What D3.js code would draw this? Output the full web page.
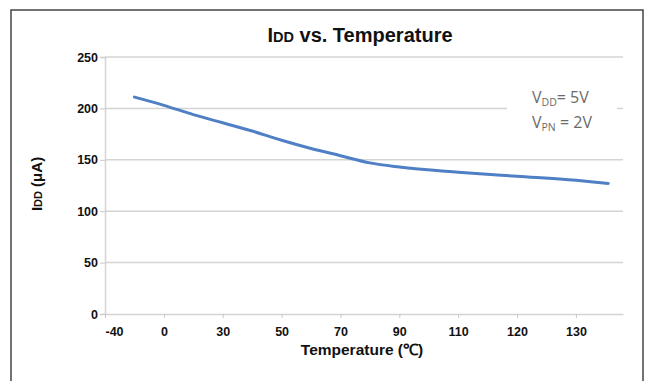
<!DOCTYPE html>
<html>
<head>
<meta charset="utf-8">
<script src="https://cdn.jsdelivr.net/npm/d3@7"></script>
<style>
  body { margin: 0; background: #fff; }
  svg { display: block; }
</style>
</head>
<body>
<svg id="chart"></svg>
<script>
// Tick labels of the temperature axis (evenly spaced categories)
const tempLabels = ["-40", "0", "30", "50", "70", "90", "110", "120", "130"];
// Y ticks
const iddTicks = [0, 50, 100, 150, 200, 250];
// Curve samples: position along the category axis (index units) and IDD in uA
const curvePos = [0.5, 1.0, 1.5, 2.0, 2.5, 3.0, 3.5, 4.0, 4.5, 5.0, 6.0, 7.0, 8.0, 8.55];
const curveIdd = [211, 203, 194, 186, 178, 169, 161, 154, 147, 143, 138, 134, 130, 127];

const W = 651, H = 381;
const font = "'Liberation Sans', Arial, sans-serif";
const svg = d3.select("#chart").attr("width", W).attr("height", H);

// frame
svg.append("rect")
    .attr("x", 11).attr("y", 10)
    .attr("width", 632).attr("height", 400)
    .style("fill", "none")
    .style("stroke", "#444")
    .style("stroke-width", 1.5);

const x = d3.scaleLinear().domain([0, 8.8]).range([105, 623]);
const y = d3.scaleLinear().domain([0, 250]).range([314, 57]);

// gridlines ----------
svg.append("g")
    .selectAll("line")
    .data(iddTicks.filter(d => d > 0))
    .enter()
    .append("line")
    .attr("x1", x(0)).attr("x2", x(8.8))
    .attr("y1", d => y(d)).attr("y2", d => y(d))
    .style("stroke", "#d4d4d4")
    .style("stroke-width", 1.5);

// y axis
const yAxis = svg.append("g")
    .attr("transform", `translate(${x(0)},0)`)
    .call(d3.axisLeft(y).tickValues(iddTicks).tickSize(5).tickPadding(2));
yAxis.select(".domain").style("stroke", "#d4d4d4").style("stroke-width", 1.5);
yAxis.selectAll(".tick line").style("stroke", "#c8c8c8");
yAxis.selectAll("text")
    .style("font-family", font)
    .style("font-size", "12.5px")
    .style("font-weight", "bold")
    .style("fill", "#111");

// x axis
const xAxis = svg.append("g")
    .attr("transform", `translate(0,${y(0)})`)
    .call(d3.axisBottom(x)
        .tickValues(d3.range(tempLabels.length))
        .tickFormat(i => tempLabels[i])
        .tickSize(4).tickSizeOuter(0).tickPadding(9));
xAxis.select(".domain").style("stroke", "#d4d4d4").style("stroke-width", 1.5);
xAxis.selectAll(".tick line").style("stroke", "#c8c8c8");
xAxis.selectAll("text")
    .style("font-family", font)
    .style("font-size", "12.5px")
    .style("font-weight", "bold")
    .style("fill", "#111");
xAxis.selectAll(".tick").filter(i => i === 0).select("text").attr("dx", 9);

// annotation box covering the grid
svg.append("rect")
    .attr("x", 507).attr("y", 84)
    .attr("width", 110).attr("height", 54)
    .style("fill", "#fff");

// data line
const line = d3.line()
    .x((d, i) => x(curvePos[i]))
    .y(d => y(d))
    .curve(d3.curveMonotoneX);

svg.append("path")
    .datum(curveIdd)
    .attr("d", line)
    .style("fill", "none")
    .style("stroke", "#4f7fc4")
    .style("stroke-width", 3)
    .style("stroke-linecap", "round");

// title
const title = svg.append("text")
    .attr("x", 360).attr("y", 42)
    .attr("text-anchor", "middle")
    .style("font-family", font)
    .style("font-weight", "bold")
    .style("font-size", "20px")
    .style("fill", "#111");
title.append("tspan").text("I");
title.append("tspan").style("font-size", "14.5px").text("DD");
title.append("tspan").text(" vs. Temperature");

// y label
const yl = svg.append("text")
    .attr("transform", "translate(42,184) rotate(-90)")
    .attr("text-anchor", "middle")
    .style("font-family", font)
    .style("font-weight", "bold")
    .style("font-size", "15px")
    .style("fill", "#111");
yl.append("tspan").text("I");
yl.append("tspan").style("font-size", "11px").text("DD");
yl.append("tspan").text(" (μA)");

// x label
svg.append("text")
    .attr("x", 362).attr("y", 355)
    .attr("text-anchor", "middle")
    .style("font-family", font)
    .style("font-weight", "bold")
    .style("font-size", "15.5px")
    .style("fill", "#111")
    .text("Temperature (℃)");

// conditions
const cond = [["V", "DD", "= 5V"], ["V", "PN", " = 2V"]];
cond.forEach((c, i) => {
    const t = svg.append("text")
        .attr("x", 532).attr("y", 103 + i * 25)
        .style("font-family", "'Open Sans', 'DejaVu Sans', sans-serif")
        .style("font-size", "16px")
        .style("fill", "#6a6a6a");
    t.append("tspan").text(c[0]);
    t.append("tspan").attr("dy", 3).style("font-size", "10.5px").text(c[1]);
    t.append("tspan").attr("dy", -3).text(c[2]);
});
</script>
</body>
</html>
